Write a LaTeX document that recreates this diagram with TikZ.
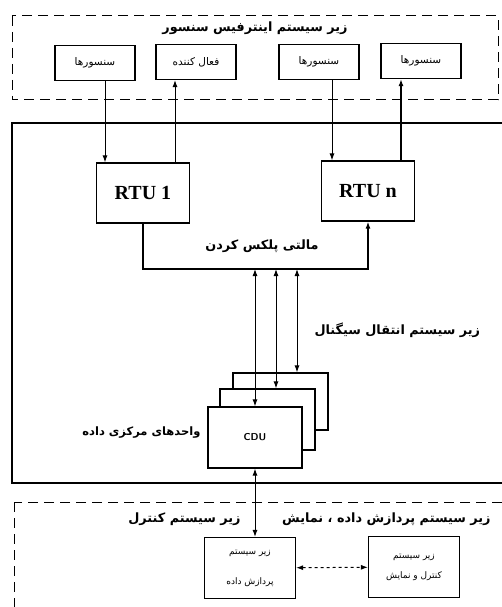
\documentclass[tikz,border=0pt]{standalone}
\usepackage{fontspec}
\setmainfont{Liberation Serif}
\newfontfamily\farsi[Script=Arabic]{DejaVu Sans}
\TeXXeTstate=1
\newcommand{\fa}[1]{{\farsi\beginR #1\endR}}
\usetikzlibrary{arrows.meta}

\begin{document}
\begin{tikzpicture}[x=1pt, y=-1pt,
  box/.style = {draw, line width=1.2pt, align=center, inner sep=2pt},
  sbox/.style = {box, minimum width=80pt, minimum height=35pt, font=\fontsize{10.5}{12}\selectfont},
  rbox/.style = {box, minimum width=93pt, minimum height=60pt, font=\fontsize{20}{24}\selectfont\bfseries},
  cbox/.style = {box, fill=white, minimum width=95pt, minimum height=60pt},
  pbox/.style = {box, minimum width=91pt, minimum height=61pt},
  zone/.style = {draw, line width=1pt, dash pattern=on 10pt off 6pt},
  lbl/.style = {font=\fontsize{12.8}{15}\selectfont\bfseries},
  arrow/.style = {line width=1pt, -{Latex[length=7pt,width=5pt]}},
  darrow/.style = {line width=1pt, {Latex[length=7pt,width=5pt]}-{Latex[length=7pt,width=5pt]}}
]
\useasboundingbox (0,0) rectangle (502,607);

% Sensor interface zone: y=16..100
\path [zone] (12,16) rectangle (498,100);
\node [lbl] (sensortitle) at (255,28) {\fa{زیر سیستم  اینترفیس سنسور}};

\node [sbox] (sens1) at (95,63) {\fa{سنسورها}};
\node [sbox] (act)   at (196,62) {\fa{فعال کننده}};
\node [sbox] (sens3) at (319,62) {\fa{سنسورها}};
\node [sbox] (sens4) at (421,61) {\fa{سنسورها}};

% Communication zone: y=123..483
\draw [line width=1.2pt] (12,123) rectangle (508,483);

\node [rbox] (rtu1) at (143,193) {RTU 1};
\node [rbox] (rtun) at (368,191) {RTU n};

% Multiplexing bus
\coordinate (busr) at (368,269);
\coordinate (bus) at (255,269);
\node [lbl] (mux) at (262,246) {\fa{مالتی پلکس کردن}};
\node [lbl, anchor=west] (signal) at (311,330) {\fa{زیر سیستم انتقال سیگنال}};

% CDU stack (back to front)
\node [cbox, minimum height=57pt] (cdu3) at (280.5,401.5) {};
\node [cbox, minimum height=61pt] (cdu2) at (267.5,419.5) {};
\node [cbox, minimum width=94pt, minimum height=61pt, font=\sffamily\bfseries] (cdu1) at (255,437.5) {CDU};
\node [lbl, anchor=east, font=\fontsize{11.5}{14}\selectfont\bfseries] (cdulabel) at (204,433) {\fa{واحدهای مرکزی داده}};

% Processing and control zone: y=502..
\path [zone] (14,502) rectangle (508,620);
\node [lbl, anchor=east] (proctitle) at (494,519) {\fa{زیر سیستم پردازش داده ، نمایش}};
\node [lbl, anchor=east] (ctltitle) at (244,519) {\fa{زیر سیستم کنترل}};

\node [pbox, font=\fontsize{9}{30}\selectfont] (proc) at (250,568) {\fa{زیر سیستم}\\\fa{پردازش داده}};
\node [pbox, font=\fontsize{9}{20}\selectfont] (ctl)  at (414,567) {\fa{زیر سیستم}\\\fa{کنترل و نمایش}};

% Arrows -- sensors and RTUs
\draw [arrow] ([xshift=10pt]sens1.south) -- ([xshift=10pt]sens1.south |- rtu1.north);
\draw [arrow] ([xshift=-21pt]act.south |- rtu1.north) -- ([xshift=-21pt]act.south);
\draw [arrow] ([xshift=13pt]sens3.south) -- ([xshift=13pt]sens3.south |- rtun.north);
\draw [arrow, line width=1.6pt] ([xshift=-20pt]sens4.south |- rtun.north) -- ([xshift=-20pt]sens4.south);

% Arrows -- bus
\draw [arrow, line width=1.4pt] (rtu1.south) |- (busr) -- (rtun.south);
\draw [darrow] (bus) -- (cdu1.north);
\draw [darrow] ([xshift=21pt]bus) -- ([xshift=21pt]bus |- cdu2.north);
\draw [darrow] ([xshift=42pt]bus) -- ([xshift=42pt]bus |- cdu3.north);

% Arrows -- processing
\draw [darrow] (cdu1.south) -- (cdu1.south |- proc.north);
\draw [darrow, dashed] (proc) -- (ctl);

\end{tikzpicture}
\end{document}
